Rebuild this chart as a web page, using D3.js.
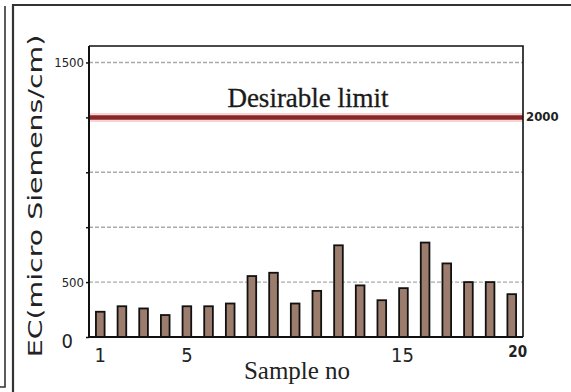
<!DOCTYPE html>
<html>
<head>
<meta charset="utf-8">
<script src="https://cdn.jsdelivr.net/npm/d3@7"></script>
<style>
  html, body { margin: 0; padding: 0; background: #fff; }
  svg { display: block; }
</style>
</head>
<body>
<svg id="chart" width="571" height="392"></svg>
<script>
// Electrical conductivity per sample
const samples = d3.range(1, 21);
const ecValues = [230, 280, 260, 200, 280, 280, 305, 555, 585, 305,
                  420, 835, 470, 335, 445, 860, 670, 500, 500, 390];
const desirableLimit = 2000;
const yTickValues = [0, 500, 1000, 1500, 2000, 2500];
const yTickLabels = ["0", "500", "", "", "", "1500"];
const gridValues = [500, 1000, 1500, 2000, 2500];
const xTickValues = [1, 5, 15, 20];
const xTickLabels = ["1", "5", "15", "20"];
const yMax = 2650;

const svg = d3.select("#chart");
const plot = { left: 89, right: 523, top: 46, bottom: 337 };

// outer panel frame
const frame = svg.append("g").attr("stroke", "#333").attr("fill", "none");
frame.append("path").attr("d", "M0,387 H5 V6").attr("stroke-width", 1.6);
frame.append("path").attr("d", "M13,392 V5 H571").attr("stroke-width", 2.2);

const x = d3.scaleBand()
  .domain(samples)
  .range([plot.left, plot.right])
  .paddingInner(0.6)
  .paddingOuter(0.32);

const y = d3.scaleLinear()
  .domain([0, yMax])
  .range([plot.bottom, plot.top]);

// dashed gridlines
svg.append("g")
  .selectAll("line")
  .data(gridValues)
  .join("line")
  .attr("x1", plot.left)
  .attr("x2", plot.right)
  .attr("y1", d => y(d))
  .attr("y2", d => y(d))
  .attr("stroke", "#aaa")
  .attr("stroke-width", 1.4)
  .attr("stroke-dasharray", "4,2");

// desirable limit line with soft halo
svg.append("line")
  .attr("x1", plot.left).attr("x2", plot.right)
  .attr("y1", y(desirableLimit)).attr("y2", y(desirableLimit))
  .attr("stroke", "#f5c4c4").attr("stroke-width", 9).attr("opacity", 0.7);
svg.append("line")
  .attr("x1", plot.left).attr("x2", plot.right)
  .attr("y1", y(desirableLimit)).attr("y2", y(desirableLimit))
  .attr("stroke", "#8a2626").attr("stroke-width", 4.5);

svg.append("text")
  .attr("x", 308).attr("y", 107)
  .attr("text-anchor", "middle")
  .attr("font-family", "'Liberation Serif', 'DejaVu Serif', serif")
  .attr("font-size", 27)
  .attr("fill", "#1a1a1a")
  .attr("stroke", "#1a1a1a")
  .attr("stroke-width", 0.3)
  .text("Desirable limit");

svg.append("text")
  .attr("x", 526).attr("y", 121)
  .attr("font-family", "'DejaVu Sans Condensed', 'DejaVu Sans', sans-serif")
  .attr("font-size", 13)
  .attr("font-weight", "bold")
  .attr("fill", "#222")
  .text(String(desirableLimit));

// bars
svg.append("g")
  .selectAll("rect")
  .data(samples)
  .join("rect")
  .attr("x", d => x(d))
  .attr("width", x.bandwidth())
  .attr("y", (d, i) => y(ecValues[i]))
  .attr("height", (d, i) => y(0) - y(ecValues[i]))
  .attr("fill", "#9c7d6d")
  .attr("stroke", "#111")
  .attr("stroke-width", 1.8);

// plot box: top and right edges
svg.append("path")
  .attr("d", `M${plot.left},${plot.top} H${plot.right} V${plot.bottom}`)
  .attr("fill", "none").attr("stroke", "#111").attr("stroke-width", 1.6);

// y axis
const yAxis = svg.append("g")
  .attr("transform", `translate(${plot.left},0)`)
  .call(d3.axisLeft(y)
    .tickValues(yTickValues)
    .tickSize(3)
    .tickPadding(2)
    .tickFormat((d, i) => yTickLabels[i]));
yAxis.select(".domain").attr("stroke", "#111").attr("stroke-width", 2)
  .attr("d", `M0,${plot.top}V${plot.bottom}`);
yAxis.selectAll(".tick line").attr("stroke", "#111").attr("stroke-width", 1.5);
yAxis.selectAll(".tick text")
  .attr("font-family", "'DejaVu Sans Condensed', 'DejaVu Sans', sans-serif")
  .attr("font-size", 13)
  .attr("fill", "#222");
yAxis.selectAll(".tick text").filter(d => d === 0)
  .attr("font-size", 20)
  .attr("x", -16)
  .attr("dy", "0.5em");

// x axis
const xAxis = svg.append("g")
  .attr("transform", `translate(0,${plot.bottom})`)
  .call(d3.axisBottom(x)
    .tickValues(xTickValues)
    .tickSize(0)
    .tickPadding(11)
    .tickFormat((d, i) => xTickLabels[i]));
xAxis.select(".domain").attr("stroke", "#111").attr("stroke-width", 2.2)
  .attr("d", `M${plot.left - 1},0H${plot.right}`);
xAxis.selectAll(".tick text")
  .attr("font-family", "'DejaVu Sans Condensed', 'DejaVu Sans', sans-serif")
  .attr("font-size", 20)
  .attr("fill", "#222");
xAxis.selectAll(".tick text").filter(d => d === 20)
  .attr("font-size", 15)
  .attr("font-weight", "bold")
  .attr("dx", 6)
  .attr("dy", "0.6em");
xAxis.selectAll(".tick text").filter(d => d === 15)
  .attr("dx", -1);

// axis titles
svg.append("text")
  .attr("x", 297).attr("y", 379)
  .attr("text-anchor", "middle")
  .attr("font-family", "'Liberation Serif', 'DejaVu Serif', serif")
  .attr("font-size", 25)
  .attr("fill", "#222")
  .text("Sample no");

// y title: glyphs stretched along the reading direction
svg.append("text")
  .attr("transform", "translate(42,196) rotate(-90) scale(1.42,1)")
  .attr("text-anchor", "middle")
  .attr("font-family", "'DejaVu Sans', sans-serif")
  .attr("font-size", 20)
  .attr("fill", "#222")
  .text("EC(micro Siemens/cm)");
</script>
</body>
</html>
